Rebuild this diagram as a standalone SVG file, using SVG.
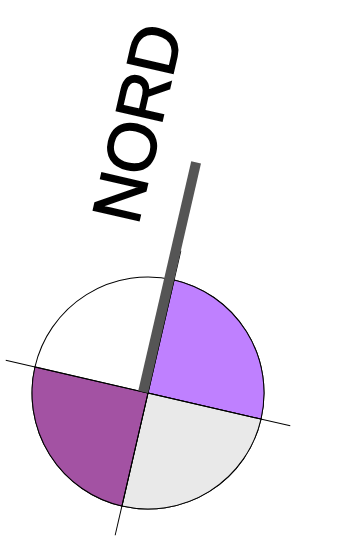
<svg xmlns="http://www.w3.org/2000/svg" width="362" height="540" viewBox="0 0 362 540">
<style>
.q{stroke:#000;stroke-width:1}
.ln{stroke:#000;stroke-width:1;fill:none}
.lbl{font-family:"Liberation Sans",Arial,sans-serif;font-size:68px;fill:#000;stroke:#000;stroke-width:1.6}
</style>
<rect width="362" height="540" fill="#fff"/>
<g id="rose" transform="rotate(13 148 393)">
<circle id="disc" cx="148" cy="393" r="116" fill="#fff" stroke="#000" stroke-width="1"/>
<path id="q-ne" class="q" d="M148 393 L148 277 A116 116 0 0 1 264 393 Z" fill="#bf80ff"/>
<path id="q-se" class="q" d="M148 393 L264 393 A116 116 0 0 1 148 509 Z" fill="#e9e9e9"/>
<path id="q-sw" class="q" d="M148 393 L148 509 A116 116 0 0 1 32 393 Z" fill="#a352a3"/>
<g id="axes">
<line class="ln" x1="2" y1="393" x2="294" y2="393"/>
<line class="ln" x1="148" y1="247" x2="148" y2="539"/>
</g>
<rect id="pointer" x="138" y="157.5" width="10" height="235.5" fill="#555"/>
</g>
<g id="label" transform="translate(137 123) rotate(-77)">
<text class="lbl" x="0" y="24" text-anchor="middle">NORD</text>
</g>
</svg>
